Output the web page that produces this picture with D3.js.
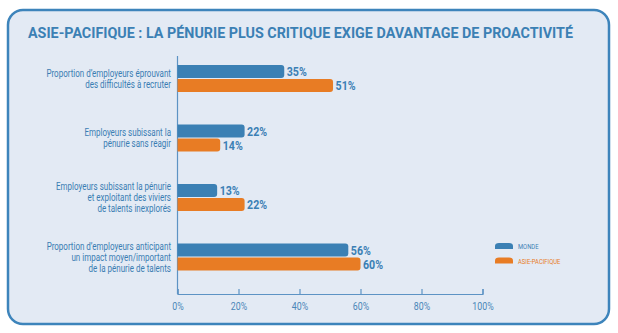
<!DOCTYPE html>
<html>
<head>
<meta charset="utf-8">
<script src="https://cdn.jsdelivr.net/npm/d3@7"></script>
<style>
  body { margin: 0; background: #fff; }
  svg text { font-family: Roboto, "Liberation Sans", sans-serif; }
</style>
</head>
<body>
<div id="chart"></div>
<script>
// categories (label lines) and the two series
var categories = [
    ["Proportion d\u2019employeurs \u00e9prouvant", "des difficult\u00e9s \u00e0 recruter"],
    ["Employeurs subissant la", "p\u00e9nurie sans r\u00e9agir"],
    ["Employeurs subissant la p\u00e9nurie", "et exploitant des viviers", "de talents inexplor\u00e9s"],
    ["Proportion d\u2019employeurs anticipant", "un impact moyen/important", "de la p\u00e9nurie de talents"]
];
var monde = [35, 22, 13, 56];
var asiePacifique = [51, 14, 22, 60];
var seriesNames = ["MONDE", "ASIE-PACIFIQUE"];
var xTicks = [0, 20, 40, 60, 80, 100];

var blue = "#3b80b4", orange = "#e87c24";
var svgWidth = 618, svgHeight = 333;

// squeeze text horizontally to mimic a condensed face
function condense(sel, factor) {
    sel.each(function() {
        var w = this.getComputedTextLength();
        d3.select(this)
            .attr("textLength", w * factor)
            .attr("lengthAdjust", "spacingAndGlyphs");
    });
}

var svg = d3.select("#chart").append("svg")
    .attr("width", svgWidth)
    .attr("height", svgHeight);

// panel
svg.append("rect")
    .attr("x", 8).attr("y", 10)
    .attr("width", 601).attr("height", 314)
    .attr("rx", 15)
    .attr("fill", "#e3eaf4")
    .attr("stroke", "#3d84bb")
    .attr("stroke-width", 2.5);

svg.append("text")
    .attr("x", 28).attr("y", 38)
    .attr("fill", "#3b80b4")
    .style("font-size", "14px")
    .style("font-weight", "bold")
    .text("ASIE-PACIFIQUE : LA P\u00c9NURIE PLUS CRITIQUE EXIGE DAVANTAGE DE PROACTIVIT\u00c9")
    .attr("textLength", 545)
    .attr("lengthAdjust", "spacingAndGlyphs");

var x = d3.scaleLinear().domain([0, 100]).range([177.5, 482.5]);
var y = d3.scaleBand().domain(d3.range(categories.length)).range([48.75, 286.75]);
var barH = 13, gap = 1;

// x axis with upward ticks
var xAxis = svg.append("g")
    .attr("transform", "translate(0,294)")
    .call(d3.axisBottom(x).tickValues(xTicks).tickSize(-5).tickPadding(9)
        .tickFormat(function(d) { return d + "%"; }));
xAxis.select(".domain").attr("stroke", "#5d93c4").attr("stroke-width", 1.2);
xAxis.selectAll(".tick line").attr("stroke", "#5d93c4").attr("stroke-width", 1.2);
xAxis.selectAll(".tick text")
    .attr("fill", "#4a86b8")
    .style("font-size", "10px")
    .style("font-family", "Roboto, sans-serif")
    .call(condense, 0.88);

// vertical baseline
svg.append("line")
    .attr("x1", x(0)).attr("x2", x(0))
    .attr("y1", 56).attr("y2", 294)
    .attr("stroke", "#5d93c4").attr("stroke-width", 1.2);

// bar with rounded right end
function barPath(x0, x1, y0, h, r) {
    r = Math.min(r, (x1 - x0));
    return "M" + x0 + "," + y0 +
        "H" + (x1 - r) +
        "Q" + x1 + "," + y0 + " " + x1 + "," + (y0 + r) +
        "V" + (y0 + h - r) +
        "Q" + x1 + "," + (y0 + h) + " " + (x1 - r) + "," + (y0 + h) +
        "H" + x0 + "Z";
}

var groups = svg.selectAll(".group")
    .data(categories)
    .enter().append("g")
    .attr("class", "group");

groups.each(function(lines, i) {
    var g = d3.select(this);
    var cy = y(i) + y.bandwidth() / 2;
    var vals = [monde[i], asiePacifique[i]];
    var cols = [blue, orange];

    vals.forEach(function(v, k) {
        var y0 = k === 0 ? cy - gap / 2 - barH : cy + gap / 2;
        g.append("path")
            .attr("d", barPath(x(0), x(v), y0, barH, 3))
            .attr("fill", cols[k]);
        g.append("text")
            .attr("x", x(v) + 2.5)
            .attr("y", y0 + barH / 2)
            .attr("dy", "0.36em")
            .attr("fill", blue)
            .style("font-size", "12.5px")
            .style("font-weight", "bold")
            .text(v + "%")
            .call(condense, 0.85);
    });

    var lh = 11;
    g.append("text")
        .attr("text-anchor", "end")
        .attr("fill", "#3a7db3")
        .style("font-size", "10px")
        .selectAll("tspan")
        .data(lines)
        .enter().append("tspan")
        .attr("x", 171)
        .attr("y", function(d, j) { return cy + (j - (lines.length - 1) / 2) * lh; })
        .attr("dy", "0.35em")
        .text(function(d) { return d; })
        .call(condense, 0.8);
});

// legend
var legend = svg.selectAll(".legend")
    .data(seriesNames)
    .enter().append("g")
    .attr("class", "legend")
    .attr("transform", function(d, i) { return "translate(495," + (243 + i * 14.5) + ")"; });

legend.append("path")
    .attr("d", "M0,6V3Q0,0 4,0H14Q18,0 18,3V6Z")
    .attr("fill", function(d, i) { return i === 0 ? blue : orange; });

legend.append("text")
    .attr("x", 23)
    .attr("y", 3.5)
    .attr("dy", "0.35em")
    .attr("fill", function(d, i) { return i === 0 ? blue : orange; })
    .style("font-size", "7.5px")
    .text(function(d) { return d; })
    .call(condense, 0.78);
</script>
</body>
</html>
